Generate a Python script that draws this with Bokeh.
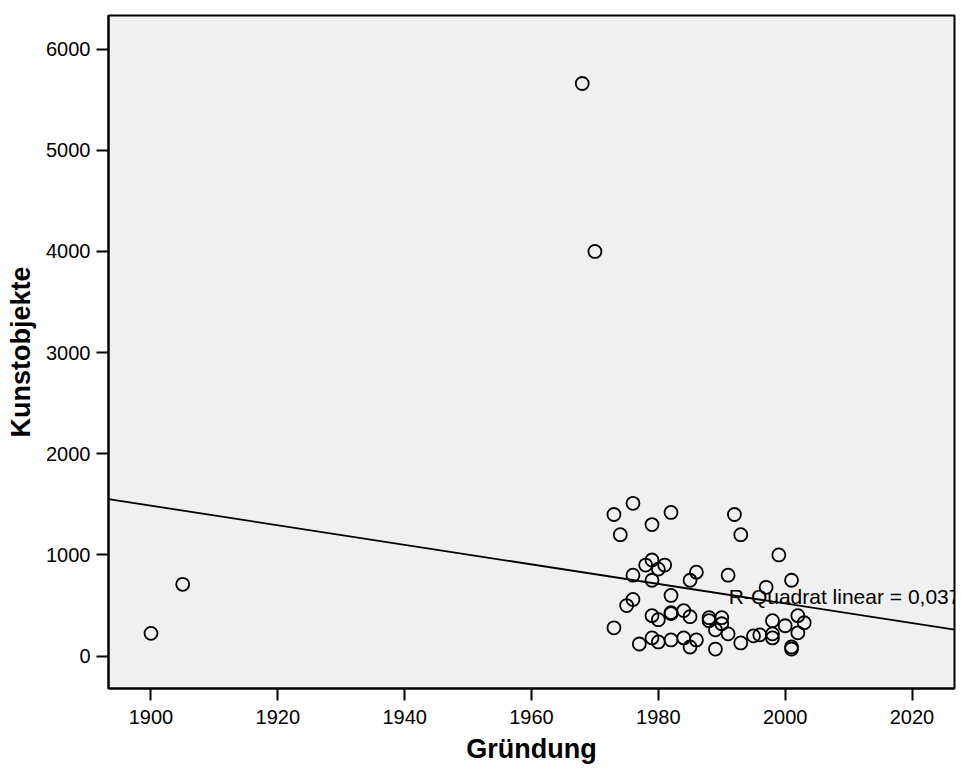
import numpy as np
from bokeh.plotting import figure
from bokeh.models import Range1d, FixedTicker
from bokeh.core.properties import value
from bokeh.embed import file_html
from bokeh.resources import INLINE

# Data (Gründung = founding year, Kunstobjekte = art objects)
gruendung = [1900, 1905, 1968, 1970,
             1973, 1976, 1982, 1974, 1979, 1992, 1993, 1999,
             1978, 1979, 1981, 1980,
             1976, 1979, 1986, 1985, 1991,
             1982, 1976, 1975, 1997, 2001,
             1973, 1979, 1980, 1982, 1982, 1984, 1985, 1988, 1988, 1990,
             1990, 1989, 1991, 1993, 1995, 1996, 1998, 1998, 1998, 2000,
             2002, 2003, 2002, 2001, 2001,
             1977, 1979, 1980, 1982, 1984, 1985, 1986, 1989]
kunstobjekte = [225, 710, 5660, 4000,
                1400, 1510, 1420, 1200, 1300, 1400, 1200, 1000,
                900, 950, 900, 860,
                800, 750, 830, 750, 800,
                600, 560, 500, 680, 750,
                280, 400, 360, 430, 420, 450, 390, 380, 350, 380,
                320, 260, 220, 130, 200, 210, 350, 220, 180, 300,
                400, 330, 230, 90, 70,
                120, 180, 140, 160, 180, 90, 160, 70]
x_ticks = [1900, 1920, 1940, 1960, 1980, 2000, 2020]
y_ticks = [0, 1000, 2000, 3000, 4000, 5000, 6000]
r2_label = "R-Quadrat linear = 0,037"

FONT = "Liberation Sans"

x_range = Range1d(1893.3, 2026.7)
y_range = Range1d(-320, 6332)

p = figure(width=961, height=769, x_range=x_range, y_range=y_range,
           output_backend="svg", toolbar_location=None,
           min_border_left=108, min_border_right=7,
           min_border_top=15, min_border_bottom=81)
p.background_fill_color = "#f0f0f0"
p.border_fill_color = "white"
p.outline_line_color = "black"
p.outline_line_width = 2
p.xgrid.visible = False
p.ygrid.visible = False

for ax in (p.xaxis[0], p.yaxis[0]):
    ax.axis_line_color = "black"
    ax.axis_line_width = 2
    ax.major_tick_line_color = "black"
    ax.major_tick_line_width = 2
    ax.major_tick_out = 12
    ax.major_tick_in = 0
    ax.minor_tick_line_color = None
    ax.major_label_text_font = FONT
    ax.major_label_text_font_size = "20px"
    ax.major_label_text_color = "black"
    ax.axis_label_text_font = FONT
    ax.axis_label_text_font_size = "27px"
    ax.axis_label_text_font_style = "bold"
    ax.axis_label_text_color = "black"

p.xaxis.ticker = FixedTicker(ticks=x_ticks)
p.yaxis.ticker = FixedTicker(ticks=y_ticks)
p.xaxis.axis_label = "Gründung"
p.yaxis.axis_label = "Kunstobjekte"
p.xaxis.major_label_standoff = 9
p.yaxis.major_label_standoff = 6
p.xaxis.axis_label_standoff = 7
p.yaxis.axis_label_standoff = 7

# linear fit computed from the data
slope, intercept = np.polyfit(np.array(gruendung, float), np.array(kunstobjekte, float), 1)
fx = np.array([x_range.start, x_range.end])
p.line(fx, slope * fx + intercept, line_color="black", line_width=1.8)

p.scatter(gruendung, kunstobjekte, size=13, fill_color=None,
          line_color="black", line_width=1.8)

p.text(x=[1991.1], y=[585], text=[r2_label], text_font=value(FONT),
       text_font_size="21px", text_color="black", text_baseline="alphabetic")

open("out.html", "w").write(file_html(p, INLINE))
